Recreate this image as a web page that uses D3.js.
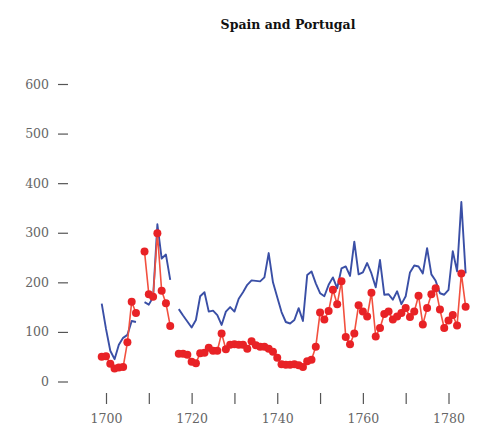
<!DOCTYPE html>
<html>
<head>
<meta charset="utf-8">
<script src="https://cdn.jsdelivr.net/npm/d3@7"></script>
<style>
  html, body { margin: 0; padding: 0; background: #fff; }
  svg { display: block; }
</style>
</head>
<body>
<svg id="chart" width="491" height="432"></svg>
<script>
// ---- data ----
const title = "Spain and Portugal";
const years = d3.range(1699, 1785);
const blueValues = [
  157, 106, 62, 45, 74, 88, 94, 122, 120, null,
  160, 155, 170, 317, 248, 256, 205, null,
  146, 133, 121, 109, 124, 172, 180, 141, 143, 134,
  114, 141, 150, 141, 167, 180, 195, 204, 203, 202,
  210, 259, 200, 170, 140, 120, 117, 124, 148, 122,
  215, 222, 198, 178, 172, 195, 210, 188, 228, 232,
  213, 282, 216, 220, 239, 218, 190, 245, 175, 176,
  165, 182, 156, 172, 220, 234, 232, 218, 269, 216,
  203, 178, 175, 185, 263, 222, 362, 218
];
const redValues = [
  50, 51, 36, 26, 28, 29, 79, 161, 138, null,
  262, 176, 171, 299, 183, 158, 112, null,
  56, 56, 54, 40, 37, 57, 58, 68, 62, 62,
  97, 65, 74, 75, 74, 74, 66, 81, 73, 70,
  70, 66, 60, 48, 35, 34, 34, 35, 33, 29,
  41, 44, 70, 139, 125, 142, 185, 156, 202, 90,
  75, 97, 154, 141, 131, 179, 91, 108, 136, 141,
  125, 131, 138, 148, 130, 141, 173, 115, 148, 176,
  188, 145, 108, 123, 134, 113, 218, 151
];
const xTicks = [1700, 1710, 1720, 1730, 1740, 1750, 1760, 1770, 1780, 1790];
const xTickLabels = [1700, 1720, 1740, 1760, 1780];
const yTicks = [0, 100, 200, 300, 400, 500, 600];

// ---- drawing ----
const svg = d3.select("#chart");
const x = d3.scaleLinear().domain([1700, 1780]).range([106, 448.5]);
const y = d3.scaleLinear().domain([0, 600]).range([381.5, 84]);

const blueData = years.map((yr, i) => ({ yr, v: blueValues[i] }));
const redData = years.map((yr, i) => ({ yr, v: redValues[i] }));

svg.append("text")
  .attr("x", 288).attr("y", 29)
  .attr("text-anchor", "middle")
  .attr("font-family", "DejaVu Serif")
  .attr("font-weight", "bold")
  .attr("font-size", 12.5)
  .attr("fill", "#111")
  .text(title);

// y axis: tick marks + labels, no domain line
const yAxis = svg.append("g").attr("transform", "translate(68,0)")
  .call(d3.axisLeft(y).tickValues(yTicks).tickSize(10).tickPadding(9).tickFormat(d3.format("d")));
yAxis.select(".domain").remove();
yAxis.selectAll(".tick line").attr("stroke", "#555").attr("stroke-width", 1.2);
yAxis.selectAll(".tick text")
  .attr("font-family", "DejaVu Serif").attr("font-size", 12.5).attr("fill", "#666");

// x axis
const xAxis = svg.append("g").attr("transform", "translate(0,393)")
  .call(d3.axisBottom(x).tickValues(xTicks).tickSize(11).tickPadding(10)
    .tickFormat(d => xTickLabels.includes(d) ? String(d) : ""));
xAxis.select(".domain").remove();
xAxis.selectAll(".tick line").attr("stroke", "#555").attr("stroke-width", 1.2);
xAxis.selectAll(".tick text")
  .attr("font-family", "DejaVu Serif").attr("font-size", 12.5).attr("fill", "#666");

const line = d3.line()
  .defined(d => d.v !== null)
  .x(d => x(d.yr))
  .y(d => y(d.v));

svg.append("path").datum(blueData)
  .attr("fill", "none")
  .attr("stroke", "#3a4fa6")
  .attr("stroke-width", 1.9)
  .attr("stroke-linejoin", "round")
  .attr("d", line);

svg.append("path").datum(redData)
  .attr("fill", "none")
  .attr("stroke", "#f2503f")
  .attr("stroke-width", 1.6)
  .attr("stroke-linejoin", "round")
  .attr("d", line);

svg.append("g").selectAll("circle")
  .data(redData.filter(d => d.v !== null))
  .join("circle")
  .attr("cx", d => x(d.yr))
  .attr("cy", d => y(d.v))
  .attr("r", 4)
  .attr("fill", "#e82226");
</script>
</body>
</html>
